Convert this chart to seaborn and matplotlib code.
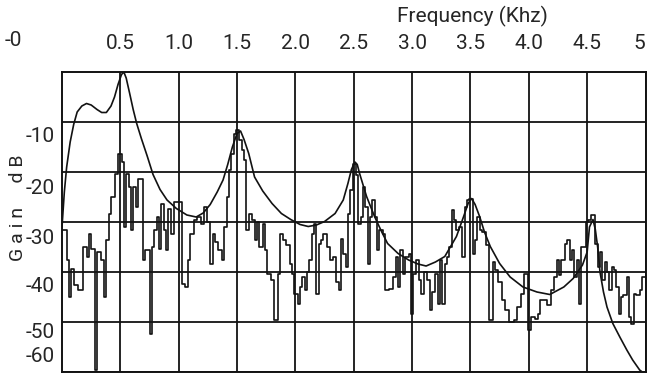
import matplotlib
matplotlib.use("Agg")
import matplotlib.pyplot as plt
import matplotlib.transforms as mtransforms
import seaborn as sns
import numpy as np

# smooth spectral envelope (kHz, dB)
env_freq = [0.00, 0.02, 0.04, 0.07, 0.10, 0.13, 0.17, 0.21, 0.25, 0.30,
            0.34, 0.38, 0.42, 0.45, 0.48, 0.51, 0.53, 0.55, 0.58, 0.61,
            0.64, 0.68, 0.73, 0.78, 0.84, 0.90, 0.98, 1.07, 1.15, 1.21,
            1.27, 1.33, 1.38, 1.42, 1.46, 1.50, 1.53, 1.56, 1.60, 1.65,
            1.72, 1.80, 1.88, 1.96, 2.04, 2.11, 2.18, 2.25, 2.34, 2.41,
            2.45, 2.48, 2.51, 2.53, 2.55, 2.61, 2.68, 2.74, 2.79, 2.88,
            2.97, 3.05, 3.12, 3.20, 3.28, 3.34, 3.38, 3.44, 3.48, 3.51,
            3.54, 3.58, 3.62, 3.67, 3.75, 3.84, 3.95, 4.07, 4.18, 4.30,
            4.38, 4.46, 4.50, 4.52, 4.55, 4.57, 4.59, 4.61, 4.64, 4.67,
            4.72, 4.78, 4.84, 4.89, 4.95, 5.00]
env_db = [-31.0, -24.0, -19.0, -14.0, -10.5, -8.0, -6.8, -6.3, -6.6, -7.5,
          -8.1, -8.1, -6.8, -5.0, -2.5, -0.5, 0.0, -1.2, -4.3, -7.5,
          -10.3, -13.3, -16.8, -20.5, -23.5, -25.6, -27.3, -28.6, -29.0, -28.2,
          -26.5, -24.0, -21.6, -18.5, -15.0, -12.3, -11.8, -13.5, -16.3, -21.0,
          -23.8, -26.3, -28.3, -29.5, -30.5, -30.9, -30.6, -29.9, -28.3, -25.6,
          -22.3, -19.5, -18.0, -18.5, -20.3, -24.9, -29.0, -32.0, -34.3, -36.3,
          -37.6, -38.4, -38.8, -38.0, -36.9, -34.5, -32.9, -29.0, -26.3, -25.3,
          -26.5, -29.0, -32.0, -34.9, -38.3, -41.0, -43.0, -44.0, -44.5, -43.0,
          -41.3, -38.6, -36.0, -31.0, -29.5, -31.5, -35.0, -40.0, -44.0, -47.0,
          -50.3, -53.0, -55.6, -57.6, -59.6, -60.5]

# short-time spectrum, one value per step (step start in kHz)
fft_freq = [0.00, 0.04, 0.06, 0.08, 0.10, 0.14, 0.18, 0.21, 0.23, 0.25,
            0.28, 0.30, 0.33, 0.36, 0.38, 0.40, 0.42, 0.45, 0.48, 0.51,
            0.53, 0.55, 0.57, 0.59, 0.61, 0.63, 0.65, 0.69, 0.71, 0.75,
            0.77, 0.79, 0.81, 0.83, 0.85, 0.87, 0.89, 0.91, 0.93, 0.96,
            1.00, 1.03, 1.05, 1.08, 1.10, 1.13, 1.16, 1.19, 1.22, 1.24,
            1.27, 1.29, 1.31, 1.34, 1.37, 1.39, 1.41, 1.43, 1.45, 1.47,
            1.49, 1.52, 1.54, 1.56, 1.58, 1.60, 1.63, 1.65, 1.67, 1.69,
            1.72, 1.74, 1.76, 1.79, 1.82, 1.85, 1.87, 1.89, 1.92, 1.95,
            1.97, 1.99, 2.02, 2.04, 2.06, 2.08, 2.10, 2.12, 2.14, 2.16,
            2.18, 2.20, 2.22, 2.24, 2.27, 2.30, 2.32, 2.35, 2.37, 2.39,
            2.41, 2.43, 2.45, 2.47, 2.49, 2.52, 2.54, 2.56, 2.58, 2.60,
            2.62, 2.64, 2.66, 2.68, 2.70, 2.72, 2.75, 2.77, 2.80, 2.84,
            2.86, 2.88, 2.90, 2.92, 2.94, 2.97, 2.99, 3.01, 3.03, 3.06,
            3.08, 3.10, 3.13, 3.15, 3.17, 3.20, 3.22, 3.24, 3.26, 3.28,
            3.30, 3.32, 3.34, 3.36, 3.38, 3.40, 3.43, 3.45, 3.47, 3.49,
            3.52, 3.54, 3.56, 3.58, 3.60, 3.63, 3.66, 3.69, 3.71, 3.74,
            3.77, 3.80, 3.83, 3.87, 3.90, 3.93, 3.96, 3.99, 4.02, 4.05,
            4.08, 4.10, 4.13, 4.16, 4.19, 4.22, 4.24, 4.26, 4.28, 4.31,
            4.33, 4.35, 4.37, 4.39, 4.41, 4.43, 4.45, 4.47, 4.49, 4.51,
            4.53, 4.57, 4.59, 4.61, 4.63, 4.65, 4.67, 4.69, 4.71, 4.73,
            4.75, 4.77, 4.79, 4.81, 4.84, 4.86, 4.88, 4.90, 4.92, 4.95,
            4.97]
fft_db = [-31.6, -37.6, -45.0, -39.3, -42.5, -43.5, -35.0, -36.9, -32.3, -35.3,
          -59.6, -35.9, -37.6, -45.0, -33.6, -28.3, -24.9, -20.3, -16.3, -18.0,
          -31.0, -20.3, -22.9, -31.6, -22.9, -26.9, -21.3, -37.6, -35.6, -52.3,
          -35.0, -31.6, -29.0, -35.3, -26.3, -31.6, -35.6, -27.3, -32.3, -25.9,
          -26.0, -42.3, -43.0, -37.6, -32.3, -29.6, -29.0, -30.3, -27.0, -30.0,
          -38.3, -32.3, -34.0, -35.6, -37.6, -30.9, -24.9, -19.6, -16.3, -12.3,
          -11.5, -13.6, -15.6, -17.6, -31.6, -28.3, -29.5, -33.6, -30.0, -35.0,
          -30.3, -35.6, -40.3, -41.6, -49.6, -40.3, -32.3, -33.5, -34.5, -38.3,
          -40.3, -44.3, -46.3, -43.0, -41.0, -43.5, -40.0, -37.6, -32.3, -30.3,
          -44.3, -34.3, -33.5, -32.3, -35.0, -37.6, -37.0, -42.0, -43.5, -33.3,
          -36.3, -39.0, -28.3, -23.6, -18.3, -20.6, -30.3, -29.0, -23.0, -27.0,
          -38.3, -29.0, -25.6, -29.0, -35.6, -31.6, -32.3, -43.6, -43.3, -41.0,
          -37.0, -43.0, -35.6, -40.3, -37.0, -36.3, -48.3, -40.3, -37.6, -41.6,
          -44.3, -40.0, -41.6, -47.6, -44.0, -40.3, -46.3, -37.6, -46.3, -38.3,
          -37.0, -35.0, -27.6, -29.5, -31.6, -30.9, -36.9, -26.9, -25.6, -25.3,
          -36.3, -33.6, -28.9, -31.6, -32.0, -34.5, -49.6, -38.0, -39.6, -42.0,
          -45.6, -47.6, -49.9, -49.5, -46.9, -44.3, -40.3, -51.6, -48.9, -49.3,
          -48.3, -45.6, -45.6, -46.5, -43.6, -41.0, -37.6, -40.5, -37.5, -34.3,
          -33.6, -37.6, -35.5, -41.0, -37.5, -46.3, -35.0, -34.9, -30.0, -29.6,
          -28.5, -34.3, -39.0, -36.0, -41.6, -38.0, -40.0, -43.6, -38.9, -39.5,
          -43.0, -48.3, -45.0, -44.5, -41.0, -49.0, -50.3, -44.3, -44.5, -43.5,
          -41.0]

x_ticks = [0.5, 1.0, 1.5, 2.0, 2.5, 3.0, 3.5, 4.0, 4.5, 5.0]
x_tick_labels = ["0.5", "1.0", "1.5", "2.0", "2.5", "3.0", "3.5", "4.0", "4.5", "5"]
y_ticks = [-10, -20, -30, -40, -50, -60]
y_tick_labels = ["-10", "-20", "-30", "-40", "-50", "-60"]
# where the old plotter put the y labels (a bit below each grid line)
y_label_pos = [-13.0, -23.2, -33.2, -43.0, -52.0, -56.8]

sns.set_style("white")
plt.rcParams["font.family"] = ["Roboto", "DejaVu Sans"]

fig = plt.figure(figsize=(6.47, 3.77), dpi=100)
ax = fig.add_axes([62 / 647, 5 / 377, 583.5 / 647, 300 / 377])

ink = "#121212"
sns.lineplot(x=env_freq, y=env_db, ax=ax, color=ink, lw=1.2,
             estimator=None, sort=False)
# close the last step at 5 kHz
fx = np.append(fft_freq, 5.0)
fy = np.append(fft_db, fft_db[-1])
sns.lineplot(x=fx, y=fy, ax=ax, color=ink, lw=1.2, drawstyle="steps-post",
             estimator=None, sort=False)

ax.set_xlim(0, 5)
ax.set_ylim(-60, 0)
ax.xaxis.tick_top()
ax.set_xticks(x_ticks)
ax.set_xticklabels(x_tick_labels, fontsize=15)
ax.tick_params(axis="x", length=0, pad=14)
ax.xaxis.get_major_ticks()[-1].label2.set_horizontalalignment("right")
ax.set_yticks(y_ticks)
ax.set_yticklabels([])
ax.tick_params(axis="y", length=0)
ax.grid(True, color=ink, lw=1.3)
for s in ax.spines.values():
    s.set_color(ink)
    s.set_linewidth(1.4)

trans = mtransforms.blended_transform_factory(ax.transAxes, ax.transData)
for pos, lab in zip(y_label_pos, y_tick_labels):
    ax.text(-0.012, pos, lab, transform=trans, ha="right", va="center",
            fontsize=15)

fig.text(22 / 647, 1 - 40 / 377, "-0", ha="right", va="center", fontsize=15)
fig.text(472 / 647, 1 - 16 / 377, "Frequency (Khz)", ha="center", va="center",
         fontsize=15)
fig.text(18 / 647, 1 - 208 / 377, "G a i n     d B", rotation=90,
         ha="center", va="center", fontsize=14)

fig.savefig("out.png", dpi=100)
plt.close(fig)
